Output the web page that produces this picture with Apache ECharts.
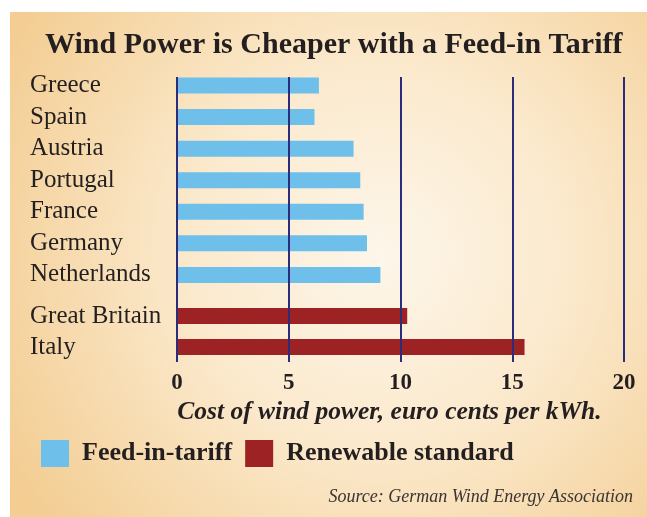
<!DOCTYPE html>
<html>
<head>
<meta charset="utf-8">
<script src="https://cdn.jsdelivr.net/npm/echarts@6/dist/echarts.min.js"></script>
<style>
  html, body { margin: 0; padding: 0; background: #ffffff; }
  #chart { width: 647px; height: 517px; }
</style>
</head>
<body>
<div id="chart"></div>
<script>
// Cost of wind power (euro cents per kWh) by support scheme
const feedInCountries = ['Greece', 'Spain', 'Austria', 'Portugal', 'France', 'Germany', 'Netherlands'];
const feedInCost = [6.35, 6.15, 7.9, 8.2, 8.35, 8.5, 9.1];
const standardCountries = ['Great Britain', 'Italy'];
const standardCost = [10.3, 15.55];
const costTicks = [0, 5, 10, 15, 20];

const SERIF = '"Liberation Serif", "DejaVu Serif", "Times New Roman", serif';
const INK = '#231f20';
const BLUE = '#6ebfea';
const RED = '#9d2224';
const NAVY = '#2b2c7c';

const costMin = costTicks[0];
const costMax = costTicks[costTicks.length - 1];
const costStep = costTicks[1] - costTicks[0];

const chart = echarts.init(document.getElementById('chart'), null, { renderer: 'canvas' });

const categoryAxis = (names, gridIndex) => ({
  type: 'category',
  gridIndex,
  data: names,
  inverse: true,
  axisLine: { show: false },
  axisTick: { show: false },
  splitLine: { show: false },
  axisLabel: {
    interval: 0,
    align: 'left',
    margin: 147,
    fontFamily: SERIF,
    fontSize: 25,
    color: INK
  }
});

const hiddenCostAxis = (gridIndex) => ({
  type: 'value',
  gridIndex,
  min: costMin,
  max: costMax,
  show: false
});

chart.setOption({
  animation: false,
  graphic: [{
    type: 'rect',
    z: -1,
    shape: { x: 10, y: 12, width: 637, height: 505 },
    style: {
      fill: new echarts.graphic.RadialGradient(0.58, 0.48, 0.85, [
        { offset: 0, color: '#fdf6ea' },
        { offset: 0.45, color: '#fbe9cc' },
        { offset: 1, color: '#f3cd92' }
      ])
    }
  }],
  title: [{
    text: 'Wind Power is Cheaper with a Feed-in Tariff',
    left: 45,
    top: 30,
    padding: 0,
    textStyle: { fontFamily: SERIF, fontSize: 30, fontWeight: 'bold', color: INK }
  }, {
    text: 'Source: German Wind Energy Association',
    right: 14,
    top: 488,
    padding: 0,
    textStyle: { fontFamily: SERIF, fontSize: 18, fontStyle: 'italic', fontWeight: 'normal', color: '#3b3431' }
  }],
  legend: {
    left: 41,
    top: 440,
    padding: 0,
    icon: 'rect',
    itemWidth: 28,
    itemHeight: 27,
    itemGap: 13,
    data: ['Feed-in-tariff', 'Renewable standard'],
    textStyle: { fontFamily: SERIF, fontSize: 26, fontWeight: 'bold', color: INK, padding: [0, 0, 0, 8] }
  },
  grid: [
    { left: 177, right: 23, top: 69.7, height: 221 },
    { left: 177, right: 23, top: 300.5, height: 62 },
    { left: 177, right: 23, top: 77, height: 285 }
  ],
  xAxis: [
    hiddenCostAxis(0),
    hiddenCostAxis(1),
    {
      type: 'value',
      gridIndex: 2,
      min: costMin,
      max: costMax,
      interval: costStep,
      z: 5,
      axisLine: { show: false },
      axisTick: { show: false },
      splitLine: { show: true, lineStyle: { color: NAVY, width: 2 } },
      axisLabel: {
        margin: 10,
        fontFamily: SERIF,
        fontSize: 23,
        fontWeight: 'bold',
        color: INK,
        formatter: (v) => (costTicks.includes(v) ? String(v) : '')
      },
      name: 'Cost of wind power, euro cents per kWh.',
      nameLocation: 'middle',
      nameGap: 27,
      nameTextStyle: {
        fontFamily: SERIF,
        fontSize: 25.5,
        fontWeight: 'bold',
        fontStyle: 'italic',
        color: INK,
        padding: [0, 22, 0, 0]
      }
    }
  ],
  yAxis: [
    categoryAxis(feedInCountries, 0),
    categoryAxis(standardCountries, 1),
    { type: 'value', gridIndex: 2, show: false, min: 0, max: 1 }
  ],
  series: [{
    name: 'Feed-in-tariff',
    type: 'bar',
    xAxisIndex: 0,
    yAxisIndex: 0,
    barWidth: 16,
    itemStyle: { color: BLUE },
    data: feedInCost
  }, {
    name: 'Renewable standard',
    type: 'bar',
    xAxisIndex: 1,
    yAxisIndex: 1,
    barWidth: 16,
    itemStyle: { color: RED },
    data: standardCost
  }]
});
</script>
</body>
</html>
